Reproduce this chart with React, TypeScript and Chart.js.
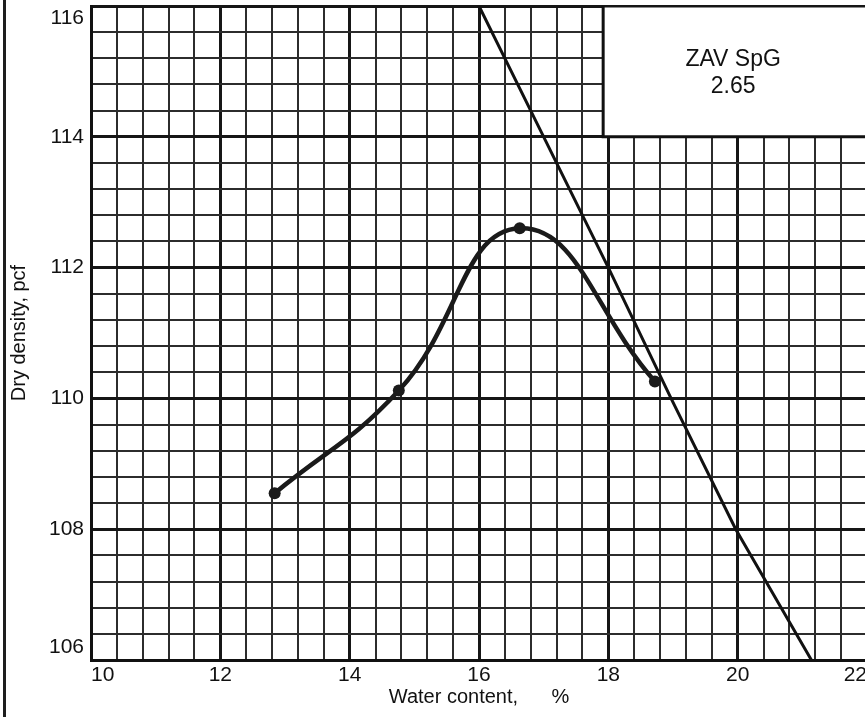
import React, { useEffect, useRef } from "react";
import { Chart, registerables } from "chart.js";

Chart.register(...registerables);

// Compaction test points (water content %, dry density pcf)
const waterContent = [12.84, 14.76, 16.63, 18.72];
const dryDensity = [108.55, 110.12, 112.6, 110.26];

// Zero-air-voids line, SpG 2.65
const zavWater = [16.0, 17.0, 18.0, 18.97, 19.97, 21.14];
const zavDensity = [116, 114, 112, 110, 108, 106];

// Labelled ticks
const xTickLabels = [10, 12, 14, 16, 18, 20, 22];
const yTickLabels = [106, 108, 110, 112, 114, 116];

const legendLines = ["ZAV SpG", "2.65"];

const FONT = '"Liberation Sans", Arial, Helvetica, sans-serif';
const INK = "#111111";

const inList = (v: number, list: number[]) => list.some((t) => Math.abs(t - v) < 1e-6);

const legendBoxPlugin = {
  id: "zavBox",
  beforeDatasetsDraw(chart: any) {
    const { ctx, chartArea, scales } = chart;
    const x0 = scales.x.getPixelForValue(17.92);
    const y1 = scales.y.getPixelForValue(114);
    const top = chartArea.top;
    const right = chartArea.right;
    ctx.save();
    ctx.fillStyle = "#ffffff";
    ctx.fillRect(x0, top + 1.5, right - x0, y1 - top - 1.5);
    ctx.strokeStyle = INK;
    ctx.lineWidth = 3;
    ctx.beginPath();
    ctx.moveTo(x0, top);
    ctx.lineTo(x0, y1);
    ctx.lineTo(right, y1);
    ctx.stroke();
    ctx.fillStyle = INK;
    ctx.font = `23px ${FONT}`;
    ctx.textAlign = "center";
    ctx.textBaseline = "middle";
    const cx = scales.x.getPixelForValue(19.93);
    const cy = (top + y1) / 2;
    ctx.fillText(legendLines[0], cx, cy - 11.5);
    ctx.fillText(legendLines[1], cx, cy + 15.5);
    ctx.restore();
  },
};

export default function App() {
  const canvasRef = useRef<HTMLCanvasElement | null>(null);

  useEffect(() => {
    if (!canvasRef.current) return;
    const chart = new Chart(canvasRef.current, {
      type: "line",
      data: {
        datasets: [
          {
            label: "ZAV SpG 2.65",
            data: zavWater.map((x, i) => ({ x, y: zavDensity[i] })),
            borderColor: INK,
            borderWidth: 3,
            pointRadius: 0,
            tension: 0,
            fill: false,
          },
          {
            label: "Compaction",
            data: waterContent.map((x, i) => ({ x, y: dryDensity[i] })),
            borderColor: "#1a1a1a",
            borderWidth: 4.5,
            pointRadius: 6,
            pointBackgroundColor: "#1a1a1a",
            pointBorderColor: "#1a1a1a",
            pointBorderWidth: 0,
            tension: 0.45,
            fill: false,
          },
        ],
      },
      options: {
        animation: false,
        responsive: true,
        maintainAspectRatio: false,
        layout: { padding: { top: 5, right: 0, bottom: 0, left: 0 } },
        plugins: {
          legend: { display: false },
          tooltip: { enabled: false },
        },
        scales: {
          x: {
            type: "linear",
            min: 10,
            max: 22,
            ticks: {
              stepSize: 0.4,
              autoSkip: false,
              maxRotation: 0,
              minRotation: 0,
              align: "inner",
              padding: 3,
              color: INK,
              font: { family: FONT, size: 21 },
              callback: (v: any) => (inList(Number(v), xTickLabels) ? String(Math.round(Number(v))) : ""),
            },
            grid: {
              drawTicks: false,
              color: (c: any) => (c.tick && inList(c.tick.value, xTickLabels) ? "#161616" : "#2c2c2c"),
              lineWidth: (c: any) => (c.tick && inList(c.tick.value, xTickLabels) ? 3 : 2),
            },
            border: { display: true, color: INK, width: 3 },
            title: {
              display: true,
              text: "Water content,      %",
              color: INK,
              font: { family: FONT, size: 20 },
              padding: { top: 0, bottom: 8 },
            },
            afterFit: (s: any) => {
              s.height = 57;
              s.paddingLeft = 0;
              s.paddingRight = 0;
            },
          },
          y: {
            type: "linear",
            min: 106,
            max: 116,
            ticks: {
              stepSize: 0.4,
              autoSkip: false,
              padding: 7,
              color: INK,
              font: { family: FONT, size: 21 },
              callback: (v: any) => {
                const n = Number(v);
                if (!inList(n, yTickLabels)) return "";
                const s = String(Math.round(n));
                if (Math.abs(n - yTickLabels[yTickLabels.length - 1]) < 1e-6) return ["", s];
                if (Math.abs(n - yTickLabels[0]) < 1e-6) return [s, ""];
                return s;
              },
            },
            grid: {
              drawTicks: false,
              color: (c: any) => (c.tick && inList(c.tick.value, yTickLabels) ? "#161616" : "#2c2c2c"),
              lineWidth: (c: any) => (c.tick && inList(c.tick.value, yTickLabels) ? 3 : 2),
            },
            border: { display: true, color: INK, width: 3 },
            title: {
              display: true,
              text: "Dry density, pcf",
              color: INK,
              font: { family: FONT, size: 20 },
              padding: { top: 7, bottom: 0 },
            },
            afterFit: (s: any) => {
              s.width = 91;
              s.paddingTop = 0;
              s.paddingBottom = 0;
            },
          },
        },
      },
      plugins: [legendBoxPlugin],
    } as any);
    return () => chart.destroy();
  }, []);

  return (
    <div
      style={{
        position: "absolute",
        left: 0,
        top: 0,
        width: 865,
        height: 717,
        overflow: "hidden",
        background: "#ffffff",
      }}
    >
      <div style={{ position: "absolute", left: 0, top: 0, width: 873, height: 717 }}>
        <canvas ref={canvasRef} />
      </div>
      <div
        style={{
          position: "absolute",
          left: 3,
          top: 0,
          width: 3,
          height: 717,
          background: "#1e1e1e",
        }}
      />
    </div>
  );
}
